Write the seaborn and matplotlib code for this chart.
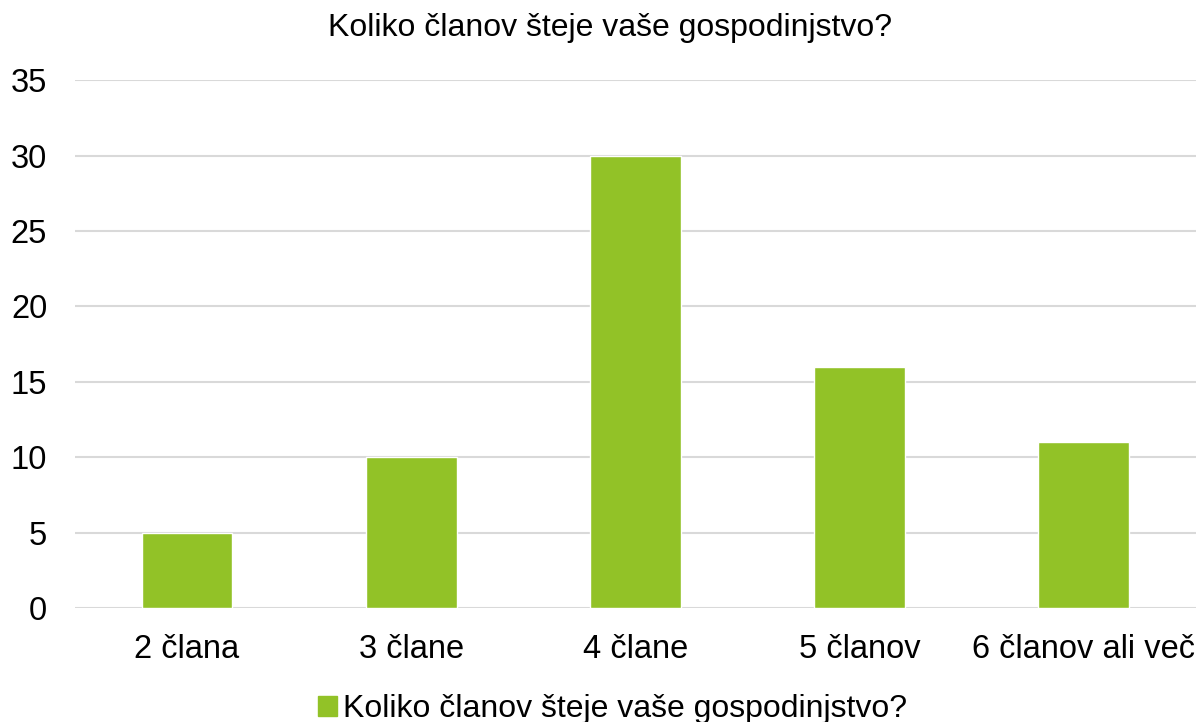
import pandas as pd
import matplotlib
matplotlib.use("Agg")
import matplotlib.pyplot as plt
import matplotlib.patches as mpatches
import seaborn as sns

categories = ["2 člana", "3 člane", "4 člane", "5 članov", "6 članov ali več"]
counts = [5, 10, 30, 16, 11]
series_name = "Koliko članov šteje vaše gospodinjstvo?"
y_ticks = [0, 5, 10, 15, 20, 25, 30, 35]

df = pd.DataFrame({"cat": categories, "n": counts})

sns.set_style("white")
plt.rcParams["font.family"] = ["Liberation Sans", "DejaVu Sans"]
plt.rcParams["text.color"] = "black"

bar_color = "#92C227"
fig = plt.figure(figsize=(11.96, 7.22), dpi=100)
ax = fig.add_axes([0.0627, 0.158, 0.937, 0.731])

sns.barplot(data=df, x="cat", y="n", color=bar_color, width=0.405,
            saturation=1, ax=ax, zorder=3)

ax.set_xlim(-0.5, 4.5)
ax.set_ylim(0, 35)
ax.set_yticks(y_ticks)
ax.yaxis.grid(True, color="#D9D9D9", linewidth=1.5, zorder=0)
ax.set_axisbelow(True)
for s in ax.spines.values():
    s.set_visible(False)
ax.tick_params(axis="both", length=0, labelsize=23.5, colors="black")
ax.tick_params(axis="x", pad=19)
ax.tick_params(axis="y", pad=20)
ax.set_xlabel("")
ax.set_ylabel("")

fig.suptitle(series_name, fontsize=23, y=0.961, va="center", x=0.51,
             color="black")

patch = mpatches.Patch(color=bar_color, label=series_name)
fig.legend(handles=[patch], loc="center", bbox_to_anchor=(0.512, 0.018),
           frameon=False, fontsize=23, handlelength=0.6, handleheight=0.6,
           handletextpad=0.2, labelcolor="black")

fig.savefig("out.png", dpi=100)
